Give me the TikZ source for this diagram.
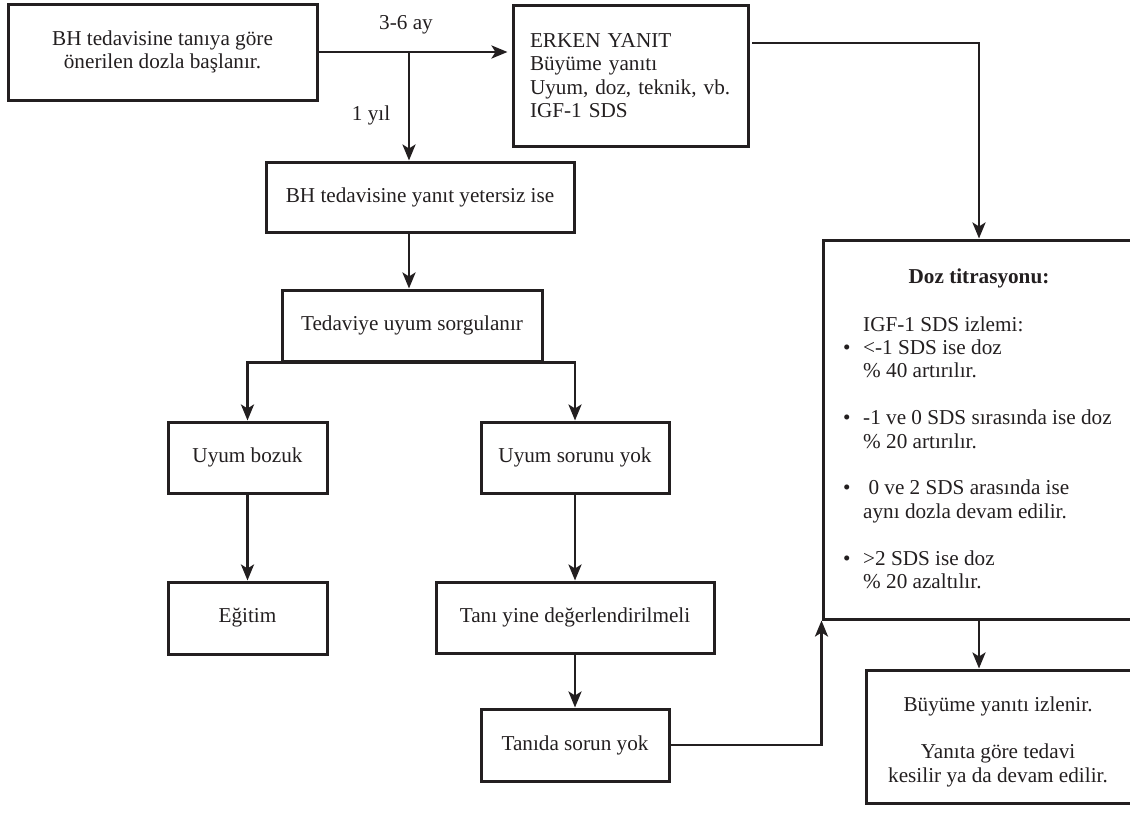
\documentclass[tikz,border=0pt]{standalone}
\usepackage{fontspec}
\setmainfont{Liberation Serif}
\usetikzlibrary{arrows.meta}
\definecolor{ink}{HTML}{231F20}
\begin{document}
\begin{tikzpicture}[x=1pt,y=-1pt,
  box/.style={draw=ink, line width=3pt, rectangle, inner sep=0pt, align=center, text=ink,
    font=\fontsize{21.2}{23.4}\selectfont},
  conn/.style={draw=ink, line width=2.8pt, -{Stealth[length=16pt,width=13pt,inset=4pt]}},
  wire/.style={draw=ink, line width=2.8pt},
  lbl/.style={text=ink, inner sep=0pt, font=\fontsize{21.2}{23.4}\selectfont}]
\useasboundingbox (0,0) rectangle (1130,817);

% boxes
\node[box, minimum width=309, minimum height=96] (A) at (162.5,52)
  {BH tedavisine tanıya göre\\önerilen dozla başlanır.};
\node[box, minimum width=235, minimum height=141, text width=201, align=left] (E) at (630.5,75.5)
  {ERKEN YANIT\\Büyüme yanıtı\\Uyum, doz, teknik, vb.\\IGF-1 SDS};
\node[box, minimum width=308, minimum height=70] (B) at (420,197) {BH tedavisine yanıt yetersiz ise};
\node[box, minimum width=260, minimum height=71] (T) at (412,325.5) {Tedaviye uyum sorgulanır};
\node[box, minimum width=159, minimum height=71] (UB) at (247.5,457.5) {Uyum bozuk};
\node[box, minimum width=188, minimum height=71] (US) at (575,457.5) {Uyum sorunu yok};
\node[box, minimum width=159, minimum height=72] (EG) at (247.5,618) {Eğitim};
\node[box, minimum width=278, minimum height=71] (TY) at (575,617.5) {Tanı yine değerlendirilmeli};
\node[box, minimum width=188, minimum height=72] (TS) at (575,745) {Tanıda sorun yok};
\node[box, minimum width=312, minimum height=379] (D) at (979,429.5) {};
\node[box, minimum width=269, minimum height=133] (F) at (1000.5,736.5) {};

% texts inside the clipped boxes
\node[lbl] (Dt) at (979,278) {\bfseries Doz titrasyonu:};
\node[lbl, anchor=base west] (Db) at (843,331) {%
  \begin{tabular}[t]{@{}p{20pt}@{}l@{}}
   & IGF-1 SDS izlemi:\\
  • & <-1 SDS ise doz\\
   & \% 40 artırılır.\\
   & \\
  • & -1 ve 0 SDS sırasında ise doz\\
   & \% 20 artırılır.\\
   & \\
  • & \ 0 ve 2 SDS arasında ise\\
   & aynı dozla devam edilir.\\
   & \\
  • & >2 SDS ise doz\\
   & \% 20 azaltılır.
  \end{tabular}};
\node[lbl, align=center] (Ft) at (998,742)
  {Büyüme yanıtı izlenir.\\[23.4pt]Yanıta göre tedavi\\kesilir ya da devam edilir.};

% labels
\node[lbl] (l36) at (406,25) {3-6 ay};
\node[lbl] (l1y) at (371,115) {1 yıl};

% connectors
\coordinate (j1) at (409,52);
\coordinate (e1) at (752,43);
\draw[conn, shorten >=4pt] (A.east) -- (A.east -| E.west);
\draw[conn] (j1) -- (B.north -| j1);
\draw[conn] (B.south -| j1) -- (T.north -| j1);
\draw[conn] (T.south) -| (UB.north);
\draw[conn] (T.south) -| (US.north);
\draw[conn] (UB) -- (EG);
\draw[conn] (US) -- (TY);
\draw[conn] (TY) -- (TS);
\draw[conn] (TS.east) -| (D.south west);
\draw[conn] (e1) -| (D.north);
\draw[conn] (D.south -| Dt) -- (F.north -| Dt);
\end{tikzpicture}
\end{document}
